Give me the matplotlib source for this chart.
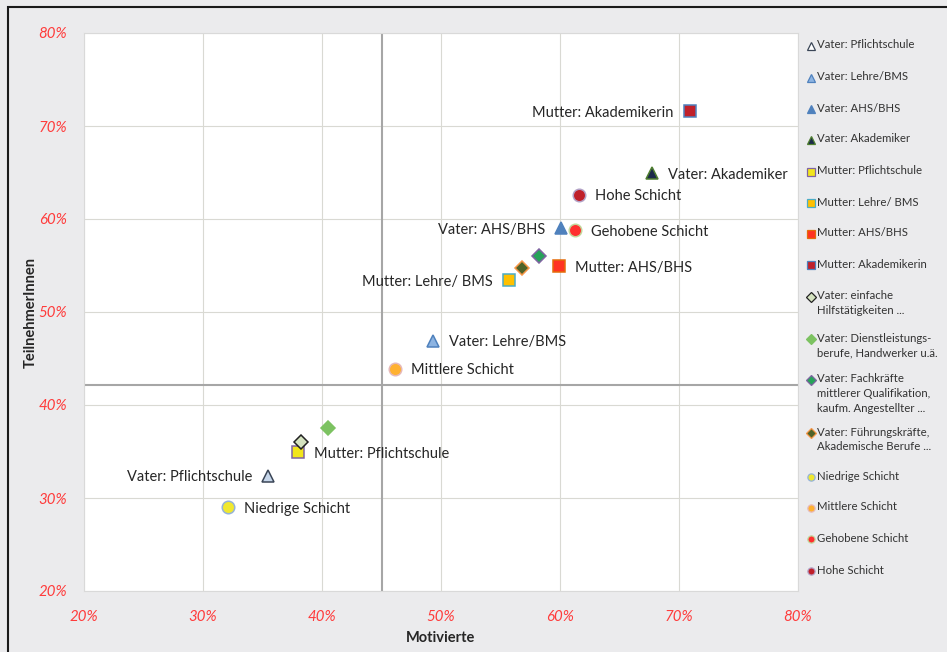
import matplotlib
matplotlib.use("Agg")
import matplotlib.pyplot as plt
from matplotlib.lines import Line2D
from matplotlib.patches import Rectangle
from matplotlib.ticker import FuncFormatter

plt.rcParams['font.family'] = ['Lato', 'DejaVu Sans']

# ---- data ----
series_names = [
    "Vater: Pflichtschule", "Vater: Lehre/BMS", "Vater: AHS/BHS", "Vater: Akademiker",
    "Mutter: Pflichtschule", "Mutter: Lehre/ BMS", "Mutter: AHS/BHS", "Mutter: Akademikerin",
    "Vater: einfache\nHilfstätigkeiten ...",
    "Vater: Dienstleistungs-\nberufe, Handwerker u.ä.",
    "Vater: Fachkräfte\nmittlerer Qualifikation,\nkaufm. Angestellter ...",
    "Vater: Führungskräfte,\nAkademische Berufe ...",
    "Niedrige Schicht", "Mittlere Schicht", "Gehobene Schicht", "Hohe Schicht",
]
motivierte = [35.5, 49.3, 60.1, 67.7, 38.0, 55.7, 59.9, 70.9,
              38.2, 40.5, 58.2, 56.8, 32.1, 46.1, 61.3, 61.6]
teilnehmer = [32.4, 46.9, 59.0, 64.9, 34.9, 53.4, 54.9, 71.6,
              36.0, 37.5, 56.0, 54.7, 29.0, 43.9, 58.8, 62.6]
point_labels = ["Vater: Pflichtschule", "Vater: Lehre/BMS", "Vater: AHS/BHS", "Vater: Akademiker",
                "Mutter: Pflichtschule", "Mutter: Lehre/ BMS", "Mutter: AHS/BHS", "Mutter: Akademikerin",
                None, None, None, None,
                "Niedrige Schicht", "Mittlere Schicht", "Gehobene Schicht", "Hohe Schicht"]
label_side = ["left", "right", "left", "right", "right", "left", "right", "left",
              None, None, None, None, "right", "right", "right", "right"]
avg_motivierte = 45.0
avg_teilnehmer = 42.2
tick_values = [20, 30, 40, 50, 60, 70, 80]

# ---- styles ----
markers = ["^", "^", "^", "^", "s", "s", "s", "s", "D", "D", "D", "D", "o", "o", "o", "o"]
faces = ["#c6d6ea", "#8db4e2", "#4f81bd", "#1c2a4a",
         "#f2e51c", "#ffc000", "#ff3322", "#c0202a",
         "#d5e3c0", "#7cc261", "#27a35a", "#4f6228",
         "#f0e82e", "#ffb130", "#ff2f2f", "#c0202a"]
edges = ["#3a4556", "#4f81bd", "#4f81bd", "#4f7f30",
         "#8064a2", "#4bacc6", "#e46c0a", "#4f81bd",
         "#222222", "#7cc261", "#8064a2", "#f79646",
         "#95b3d7", "#e6b9b8", "#c3d69b", "#b3a2c7"]
sizes = [9, 9, 9, 9, 8.5, 8.5, 8.5, 8.5, 7, 7, 7, 7, 9, 9, 9, 9]

bg = "#ebebed"
fig = plt.figure(figsize=(9.47, 6.52), dpi=100, facecolor=bg)
W, H = 947, 652
ax = fig.add_axes([84 / W, 1 - 591 / H, (798 - 84) / W, (591 - 33) / H])
ax.set_facecolor("white")

ax.set_xlim(20, 80)
ax.set_ylim(20, 80)
ax.set_xticks(tick_values)
ax.set_yticks(tick_values)
fmt = FuncFormatter(lambda v, p: f"{int(round(v))}%")
ax.xaxis.set_major_formatter(fmt)
ax.yaxis.set_major_formatter(fmt)
ax.grid(True, color="#d9d9d3", linewidth=0.8)
ax.set_axisbelow(True)
ax.tick_params(length=0, colors="#ff3b3b", labelsize=10.8)
ax.tick_params(axis="x", pad=14)
ax.tick_params(axis="y", pad=12)
for lab in ax.get_xticklabels() + ax.get_yticklabels():
    lab.set_fontstyle("italic")
for s in ax.spines.values():
    s.set_color("#d9d9d9")
    s.set_linewidth(0.8)

ax.axvline(avg_motivierte, color="#a6a6a6", linewidth=1.5, zorder=1)
ax.axhline(avg_teilnehmer, color="#a6a6a6", linewidth=1.5, zorder=1)

for i in range(len(series_names)):
    ax.plot([motivierte[i]], [teilnehmer[i]], linestyle="none", marker=markers[i],
            markersize=sizes[i], markerfacecolor=faces[i], markeredgecolor=edges[i],
            markeredgewidth=1.1, zorder=3)
    if point_labels[i]:
        off = 11.5 if label_side[i] == "right" else -11.5
        ax.annotate(point_labels[i], (motivierte[i], teilnehmer[i]),
                    xytext=(off, -1), textcoords="offset points",
                    ha="left" if label_side[i] == "right" else "right", va="center",
                    fontsize=10.5, color="#262626", zorder=4)

ax.set_xlabel("Motivierte", fontsize=10.5, fontweight="bold", color="#262626", labelpad=5)
ax.set_ylabel("TeilnehmerInnen", fontsize=10.5, fontweight="bold", color="#262626", labelpad=1)

# ---- manual legend ----
leg_y = [46, 78, 109, 140, 172, 203, 234, 265, 297, 339, 380, 433, 477, 508, 539, 571]
leg_ms = [5.5, 5.5, 5.5, 5.5, 5.2, 5.2, 5.2, 5.2, 4.6, 4.6, 4.6, 4.6, 5.2, 5.2, 5.2, 5.2]
for i, name in enumerate(series_names):
    yy = 1 - leg_y[i] / H
    fig.add_artist(Line2D([811 / W], [yy], transform=fig.transFigure, linestyle="none",
                          marker=markers[i], markersize=leg_ms[i],
                          markerfacecolor=faces[i] if i != 0 else "white",
                          markeredgecolor=edges[i], markeredgewidth=0.9))
    fig.text(817 / W, yy + 6.5 / H, name, fontsize=8.2, color="#333333", va="top",
             ha="left", linespacing=1.42, transform=fig.transFigure)

# frame border
fig.add_artist(Rectangle((8 / W, -0.1), 1.2, 1.1 - 7 / H, transform=fig.transFigure,
                         fill=False, edgecolor="#1a1a1a", linewidth=1.5))

fig.savefig("out.png", dpi=100, facecolor=bg)
